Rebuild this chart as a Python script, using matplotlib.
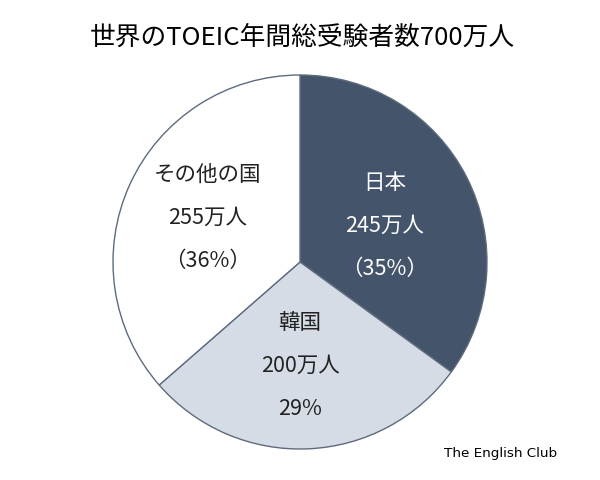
import matplotlib.pyplot as plt

plt.rcParams['font.family'] = ['Noto Sans CJK JP', 'DejaVu Sans']

# data
countries = ['日本', '韓国', 'その他の国']
examinees = [245, 200, 255]   # 万人
shares = ['（35%）', '29%', '（36%）']
colors = ['#44546A', '#D6DCE5', '#FFFFFF']
text_colors = ['white', '#222222', '#222222']

fig = plt.figure(figsize=(6, 4.8), dpi=100)

# pie centre (300, 261) px, radius 187 px
cx, cy, r = 300, 262, 187
ax = fig.add_axes([(cx - r) / 600, (480 - cy - r) / 480, 2 * r / 600, 2 * r / 480])
ax.pie(examinees, colors=colors, startangle=90, counterclock=False,
       radius=1, wedgeprops=dict(edgecolor='#5E6B7E', linewidth=1))
ax.set_xlim(-1, 1)
ax.set_ylim(-1, 1)
ax.set_aspect('equal')
ax.axis('off')

# label positions in pixels (x, y of first line)
label_pos = [(385, 183), (300, 323), (208, 175)]
line_gap = 43
for i, name in enumerate(countries):
    px, py = label_pos[i]
    lines = [name, f'{examinees[i]}万人', shares[i]]
    for j, s in enumerate(lines):
        fig.text(px / 600, 1 - (py + j * line_gap) / 480, s, ha='center', va='center',
                 fontsize=15.5, color=text_colors[i])

fig.text(302 / 600, 1 - 38 / 480, '世界のTOEIC年間総受験者数700万人', ha='center', va='center',
         fontsize=18.5)
fig.text(501 / 600, 1 - 453 / 480, 'The English Club', ha='center', va='center',
         fontsize=9.7, family=['DejaVu Sans'])

fig.savefig('out.png', dpi=100)
